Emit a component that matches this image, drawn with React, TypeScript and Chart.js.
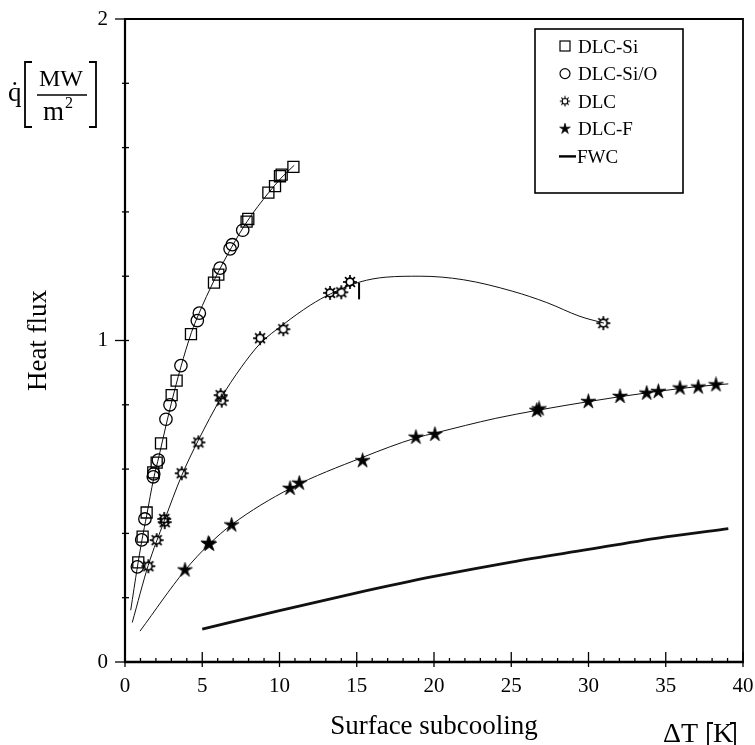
import React, { useEffect, useRef } from "react";
import { Chart, registerables } from "chart.js";

Chart.register(...registerables);

const FONT = '"Liberation Serif", "Times New Roman", Times, serif';

// ---------- data ----------
const xMin = 0;
const xMax = 40;
const yMin = 0;
const yMax = 2;
const xStep = 1;
const xLabelEvery = 5;
const yStep = 0.2;

const legendLabels = ["DLC-Si", "DLC-Si/O", "DLC", "DLC-F", "FWC"];

// DLC-Si (squares)
const dlcSiX = [0.86, 1.14, 1.4, 1.83, 2.05, 2.33, 3.02, 3.34, 4.27, 5.76, 6.04, 7.87, 7.98, 9.28, 9.71, 10.03, 10.14, 10.9];
const dlcSiY = [0.31, 0.39, 0.465, 0.59, 0.62, 0.68, 0.83, 0.875, 1.02, 1.18, 1.205, 1.37, 1.378, 1.46, 1.48, 1.511, 1.516, 1.54];

// DLC-Si/O (circles)
const dlcSiOX = [0.8, 1.08, 1.29, 1.83, 1.86, 2.16, 2.65, 2.91, 3.62, 4.68, 4.81, 6.15, 6.8, 6.95, 7.62];
const dlcSiOY = [0.296, 0.38, 0.445, 0.576, 0.585, 0.628, 0.755, 0.8, 0.922, 1.062, 1.085, 1.225, 1.285, 1.298, 1.343];

// fitted curve through DLC-Si and DLC-Si/O
const siCurveX = [0.37, 0.8, 1.1, 1.4, 1.85, 2.2, 2.65, 3.0, 3.6, 4.3, 4.75, 5.8, 6.9, 7.9, 9.3, 10.1, 10.95];
const siCurveY = [0.161, 0.295, 0.38, 0.455, 0.57, 0.64, 0.735, 0.805, 0.915, 1.025, 1.08, 1.19, 1.29, 1.37, 1.46, 1.505, 1.545];

// DLC (sun markers)
const dlcX = [1.51, 2.05, 2.54, 2.57, 3.67, 4.75, 6.19, 6.26, 8.74, 10.25, 13.27, 14.0, 14.56, 30.96];
const dlcY = [0.298, 0.379, 0.445, 0.435, 0.587, 0.683, 0.83, 0.813, 1.007, 1.035, 1.148, 1.15, 1.182, 1.054];

// fitted curve through DLC
const dlcCurveX = [0.47, 1.5, 2.55, 3.67, 4.75, 6.2, 7.5, 8.74, 10.25, 12.0, 13.3, 15.2, 16.9, 19.1, 21.9, 25.1, 27.3, 29.45, 31.0];
const dlcCurveY = [0.123, 0.3, 0.44, 0.58, 0.69, 0.82, 0.915, 0.99, 1.05, 1.11, 1.145, 1.182, 1.197, 1.2, 1.189, 1.153, 1.118, 1.075, 1.054];

// small vertical mark next to DLC data
const dlcMarkX = [15.15, 15.15];
const dlcMarkY = [1.128, 1.18];

// DLC-F (stars)
const dlcFX = [3.88, 5.39, 5.46, 6.9, 10.68, 11.28, 15.38, 18.83, 20.06, 26.65, 26.8, 29.99, 32.04, 33.77, 34.52, 35.92, 37.1, 38.25];
const dlcFY = [0.286, 0.369, 0.366, 0.426, 0.54, 0.556, 0.626, 0.699, 0.708, 0.782, 0.787, 0.81, 0.826, 0.836, 0.841, 0.852, 0.855, 0.862];

// fitted curve through DLC-F
const dlcFCurveX = [0.97, 3.88, 5.46, 6.9, 10.7, 15.4, 18.83, 20.06, 24.0, 26.7, 30.0, 32.0, 34.5, 36.0, 38.25, 39.05];
const dlcFCurveY = [0.096, 0.285, 0.367, 0.427, 0.54, 0.637, 0.697, 0.712, 0.758, 0.783, 0.81, 0.825, 0.842, 0.851, 0.862, 0.865];

// FWC (thick line)
const fwcX = [5, 10, 15, 20, 25, 30, 35, 39.05];
const fwcY = [0.102, 0.16, 0.215, 0.266, 0.311, 0.35, 0.389, 0.415];

// ---------- helpers ----------
const pts = (xs: number[], ys: number[]) => xs.map((x, i) => ({ x, y: ys[i] }));

function makeSun(size: number, rIn: number, rOut: number, lw: number) {
  const c = document.createElement("canvas");
  c.width = size;
  c.height = size;
  const g = c.getContext("2d")!;
  const m = size / 2;
  g.strokeStyle = "#000";
  g.lineWidth = lw;
  g.beginPath();
  g.arc(m, m, rIn, 0, Math.PI * 2);
  g.stroke();
  for (let k = 0; k < 8; k++) {
    const a = (k * Math.PI) / 4;
    g.beginPath();
    g.moveTo(m + Math.cos(a) * rIn, m + Math.sin(a) * rIn);
    g.lineTo(m + Math.cos(a) * rOut, m + Math.sin(a) * rOut);
    g.stroke();
  }
  return c;
}

function makeStar(size: number, rOut: number, rIn: number) {
  const c = document.createElement("canvas");
  c.width = size;
  c.height = size;
  const g = c.getContext("2d")!;
  const m = size / 2;
  g.fillStyle = "#000";
  g.strokeStyle = "#000";
  g.lineWidth = 0.8;
  g.beginPath();
  for (let k = 0; k < 10; k++) {
    const r = k % 2 === 0 ? rOut : rIn;
    const a = -Math.PI / 2 + (k * Math.PI) / 5;
    const px = m + Math.cos(a) * r;
    const py = m + Math.sin(a) * r;
    if (k === 0) g.moveTo(px, py);
    else g.lineTo(px, py);
  }
  g.closePath();
  g.fill();
  g.stroke();
  return c;
}

const isInt = (v: number) => Math.abs(v - Math.round(v)) < 1e-6;

export default function App() {
  const ref = useRef<HTMLCanvasElement | null>(null);

  useEffect(() => {
    if (!ref.current) return;
    const sun = makeSun(16, 3.8, 7, 1.7);
    const star = makeStar(17, 7.8, 2.7);
    const sunSmall = makeSun(12, 2.8, 5.2, 1.1);
    const starSmall = makeStar(12, 5.6, 1.9);

    const framePlugin = {
      id: "frameTicks",
      afterDraw(chart: any) {
        const { ctx, chartArea: a, scales } = chart;
        const xs = scales.x;
        const ys = scales.y;
        ctx.save();
        ctx.strokeStyle = "#000";
        ctx.lineCap = "butt";
        ctx.lineWidth = 1.8;
        ctx.beginPath();
        ctx.moveTo(a.left, a.top);
        ctx.lineTo(a.right, a.top);
        ctx.lineTo(a.right, a.bottom);
        ctx.stroke();
        ctx.lineWidth = 2.2;
        ctx.beginPath();
        ctx.moveTo(a.left, a.top - 1);
        ctx.lineTo(a.left, a.bottom + 1);
        ctx.stroke();
        ctx.lineWidth = 2.6;
        ctx.beginPath();
        ctx.moveTo(a.left - 1, a.bottom);
        ctx.lineTo(a.right + 1, a.bottom);
        ctx.stroke();
        // x ticks
        ctx.lineWidth = 1.3;
        xs.ticks.forEach((t: any) => {
          const px = xs.getPixelForValue(t.value);
          const major = isInt(t.value / xLabelEvery);
          ctx.beginPath();
          if (major) {
            ctx.moveTo(px, a.bottom - 10);
            ctx.lineTo(px, a.bottom + 5);
          } else {
            ctx.moveTo(px, a.bottom - 4);
            ctx.lineTo(px, a.bottom);
          }
          ctx.stroke();
        });
        ys.ticks.forEach((t: any) => {
          const py = ys.getPixelForValue(t.value);
          const major = isInt(t.value);
          ctx.beginPath();
          if (major) {
            ctx.moveTo(a.left - 10, py);
            ctx.lineTo(a.left + 4, py);
          } else {
            ctx.moveTo(a.left - 3, py);
            ctx.lineTo(a.left + 4, py);
          }
          ctx.stroke();
        });
        ctx.restore();
      },
    };

    const textPlugin = {
      id: "unitsLegend",
      afterDraw(chart: any) {
        const { ctx } = chart;
        ctx.save();
        ctx.fillStyle = "#000";
        ctx.strokeStyle = "#000";
        ctx.textBaseline = "alphabetic";
        // y unit: q-dot [MW / m2]
        ctx.font = `27px ${FONT}`;
        ctx.textAlign = "left";
        ctx.fillText("q", 8, 101);
        const qw = ctx.measureText("q").width;
        ctx.textAlign = "center";
        ctx.fillText("\u02D9", 8 + qw / 2, 100);
        ctx.lineWidth = 1.8;
        ctx.beginPath();
        ctx.moveTo(32, 62);
        ctx.lineTo(25, 62);
        ctx.lineTo(25, 127);
        ctx.lineTo(32, 127);
        ctx.moveTo(89, 62);
        ctx.lineTo(96, 62);
        ctx.lineTo(96, 127);
        ctx.lineTo(89, 127);
        ctx.stroke();
        ctx.font = `24px ${FONT}`;
        ctx.textAlign = "center";
        ctx.fillText("MW", 61, 86);
        ctx.lineWidth = 1.5;
        ctx.beginPath();
        ctx.moveTo(37, 95);
        ctx.lineTo(87, 95);
        ctx.stroke();
        ctx.textAlign = "left";
        ctx.font = `27px ${FONT}`;
        ctx.fillText("m", 43, 120);
        const mw = ctx.measureText("m").width;
        ctx.font = `16px ${FONT}`;
        ctx.fillText("2", 43 + mw + 1, 108);

        // x unit: ΔT [K]
        ctx.font = `28px ${FONT}`;
        ctx.textAlign = "left";
        ctx.fillText("\u0394T", 663, 742);
        ctx.fillText("K", 713, 742);
        ctx.lineWidth = 1.8;
        ctx.beginPath();
        ctx.moveTo(713, 723);
        ctx.lineTo(708, 723);
        ctx.lineTo(708, 746);
        ctx.moveTo(730, 723);
        ctx.lineTo(735, 723);
        ctx.lineTo(735, 746);
        ctx.stroke();

        // legend box
        const lx = 535;
        const ly = 29;
        const lw = 148;
        const lh = 164;
        ctx.lineWidth = 1.6;
        ctx.strokeRect(lx, ly, lw, lh);
        const rowY = (i: number) => 46 + i * 27.6;
        ctx.font = `19px ${FONT}`;
        ctx.textAlign = "left";
        legendLabels.forEach((lab, i) => {
          const cy = rowY(i);
          const sx = 565;
          ctx.lineWidth = 1.2;
          if (i === 0) {
            ctx.strokeRect(sx - 5, cy - 5, 10, 10);
          } else if (i === 1) {
            ctx.beginPath();
            ctx.arc(sx, cy, 5, 0, Math.PI * 2);
            ctx.stroke();
          } else if (i === 2) {
            ctx.drawImage(sunSmall, sx - sunSmall.width / 2, cy - sunSmall.height / 2);
          } else if (i === 3) {
            ctx.drawImage(starSmall, sx - starSmall.width / 2, cy - starSmall.height / 2);
          } else {
            ctx.lineWidth = 2.4;
            ctx.beginPath();
            ctx.moveTo(559, cy);
            ctx.lineTo(576, cy);
            ctx.stroke();
          }
          ctx.fillText(lab, i === 4 ? 577 : 578, cy + 6.5);
        });
        ctx.restore();
      },
    };

    const curve = (xs: number[], ys: number[], w: number) => ({
      type: "line" as const,
      data: pts(xs, ys),
      borderColor: "#111",
      borderWidth: w,
      pointRadius: 0,
      fill: false,
      cubicInterpolationMode: "monotone" as const,
      showLine: true,
    });

    const markers = (xs: number[], ys: number[], style: any, radius: number) => ({
      type: "scatter" as const,
      data: pts(xs, ys),
      pointStyle: style,
      pointRadius: radius,
      pointBorderColor: "#000",
      pointBackgroundColor: "rgba(0,0,0,0)",
      pointBorderWidth: 1.3,
      showLine: false,
    });

    const chart = new Chart(ref.current, {
      type: "scatter",
      data: {
        datasets: [
          { label: legendLabels[0], ...markers(dlcSiX, dlcSiY, "rect", 7.8) },
          { label: legendLabels[1], ...markers(dlcSiOX, dlcSiOY, "circle", 6.2) },
          { label: legendLabels[2], ...markers(dlcX, dlcY, sun, 6) },
          { label: legendLabels[3], ...markers(dlcFX, dlcFY, star, 6) },
          { label: legendLabels[4], ...curve(fwcX, fwcY, 2.8) },
          { label: "fitSi", ...curve(siCurveX, siCurveY, 1) },
          { label: "fitDLC", ...curve(dlcCurveX, dlcCurveY, 1) },
          { label: "fitDLCF", ...curve(dlcFCurveX, dlcFCurveY, 1) },
          {
            label: "mark",
            type: "line",
            data: pts(dlcMarkX, dlcMarkY),
            borderColor: "#000",
            borderWidth: 2,
            pointRadius: 0,
            tension: 0,
            showLine: true,
          },
        ] as any,
      },
      options: {
        animation: false,
        responsive: false,
        devicePixelRatio: 1,
        layout: { padding: { left: 0, right: 12, top: 19, bottom: 0 } },
        plugins: {
          legend: { display: false },
          tooltip: { enabled: false },
        },
        scales: {
          x: {
            type: "linear",
            min: xMin,
            max: xMax,
            grid: { display: false, drawTicks: false },
            border: { display: false },
            ticks: {
              stepSize: xStep,
              autoSkip: false,
              maxRotation: 0,
              minRotation: 0,
              padding: 12,
              color: "#000",
              font: { family: FONT, size: 21 },
              callback: (v: any) => (isInt(Number(v) / xLabelEvery) ? String(Math.round(Number(v))) : ""),
            },
            title: {
              display: true,
              text: "Surface subcooling",
              color: "#000",
              font: { family: FONT, size: 27 },
              padding: { top: 0, bottom: 2 },
            },
            afterFit: (s: any) => {
              s.height = 83;
              s.paddingLeft = 0;
              s.paddingRight = 0;
            },
          },
          y: {
            type: "linear",
            min: yMin,
            max: yMax,
            grid: { display: false, drawTicks: false },
            border: { display: false },
            ticks: {
              stepSize: yStep,
              autoSkip: false,
              padding: 17,
              color: "#000",
              font: { family: FONT, size: 21 },
              callback: (v: any) => (isInt(Number(v)) ? String(Math.round(Number(v))) : ""),
            },
            title: {
              display: true,
              text: "Heat flux",
              color: "#000",
              font: { family: FONT, size: 27 },
              padding: { top: 23, bottom: 0 },
            },
            afterFit: (s: any) => {
              s.width = 125;
              s.paddingTop = 0;
              s.paddingBottom = 0;
            },
          },
        },
      } as any,
      plugins: [framePlugin, textPlugin],
    });
    return () => chart.destroy();
  }, []);

  return (
    <div style={{ position: "absolute", left: 0, top: 0, width: 755, height: 745, background: "#fff" }}>
      <canvas ref={ref} width={755} height={745} style={{ display: "block", width: 755, height: 745 }} />
    </div>
  );
}
